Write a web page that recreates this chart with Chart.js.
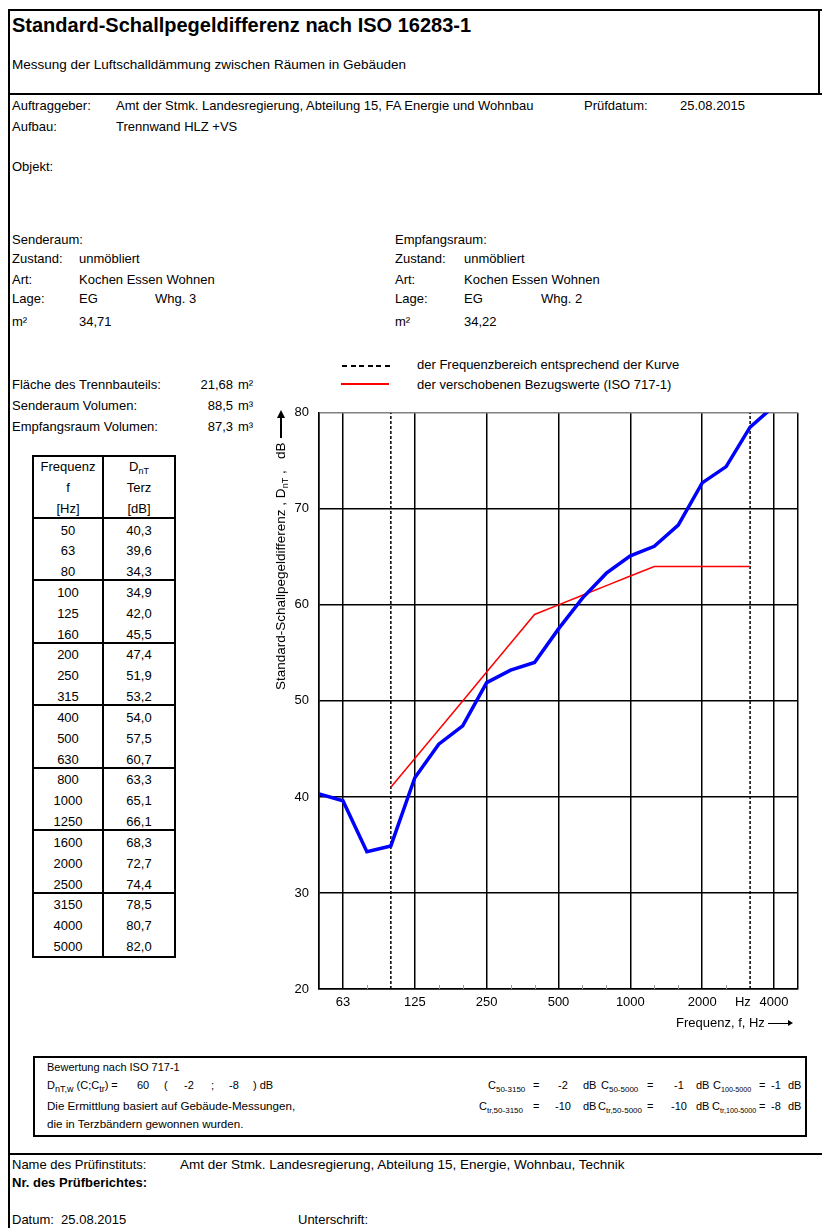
<!DOCTYPE html>
<html lang="de"><head><meta charset="utf-8">
<script src="https://cdn.jsdelivr.net/npm/chart.js@4.4.1/dist/chart.umd.min.js"></script>
<style>
html,body{margin:0;padding:0;background:#fff}
body{width:822px;height:1228px;position:relative;overflow:hidden;font-family:"Liberation Sans",Arial,sans-serif;font-size:13px;color:#000}
.t{position:absolute;white-space:nowrap;line-height:16px;height:16px}
.r{text-align:right}
.c{text-align:center}
.hl{position:absolute;height:2px;background:#000}
.vl{position:absolute;width:2px;background:#000}
sub{font-size:9px;vertical-align:-3px;line-height:0}
.s{font-size:11px}
.xs{font-size:11.6px}
.ss sub{font-size:8px}
.s7 sub{font-size:7.2px}
</style></head><body>

<!-- frame -->
<div class="hl" style="left:8px;top:9px;width:814px"></div>
<div class="vl" style="left:8px;top:9px;height:1219px"></div>
<div class="vl" style="left:818px;top:9px;height:86px"></div>
<div class="hl" style="left:8px;top:93px;width:814px"></div>
<div class="hl" style="left:8px;top:1153px;width:814px"></div>

<div class="t" style="left:12px;top:14px;font-size:20px;font-weight:bold;line-height:22px;height:22px">Standard-Schallpegeldifferenz nach ISO 16283-1</div>
<div class="t" style="left:12px;top:57px;font-size:13.5px">Messung der Luftschalldämmung zwischen Räumen in Gebäuden</div>

<div class="t" style="left:12px;top:98px">Auftraggeber:</div>
<div class="t" style="left:116px;top:98px">Amt der Stmk. Landesregierung, Abteilung 15, FA Energie und Wohnbau</div>
<div class="t" style="left:584px;top:98px">Prüfdatum:</div>
<div class="t" style="left:680px;top:98px">25.08.2015</div>
<div class="t" style="left:12px;top:119px">Aufbau:</div>
<div class="t" style="left:116px;top:119px">Trennwand HLZ +VS</div>
<div class="t" style="left:12px;top:159px">Objekt:</div>

<div class="t" style="left:12px;top:232px">Senderaum:</div>
<div class="t" style="left:12px;top:251px">Zustand:</div><div class="t" style="left:79px;top:251px">unmöbliert</div>
<div class="t" style="left:12px;top:272px">Art:</div><div class="t" style="left:79px;top:272px">Kochen Essen Wohnen</div>
<div class="t" style="left:12px;top:291px">Lage:</div><div class="t" style="left:79px;top:291px">EG</div><div class="t" style="left:155px;top:291px">Whg. 3</div>
<div class="t" style="left:12px;top:314px">m²</div><div class="t" style="left:79px;top:314px">34,71</div>

<div class="t" style="left:395px;top:232px">Empfangsraum:</div>
<div class="t" style="left:395px;top:251px">Zustand:</div><div class="t" style="left:464px;top:251px">unmöbliert</div>
<div class="t" style="left:395px;top:272px">Art:</div><div class="t" style="left:464px;top:272px">Kochen Essen Wohnen</div>
<div class="t" style="left:395px;top:291px">Lage:</div><div class="t" style="left:464px;top:291px">EG</div><div class="t" style="left:541px;top:291px">Whg. 2</div>
<div class="t" style="left:395px;top:314px">m²</div><div class="t" style="left:464px;top:314px">34,22</div>

<!-- legend -->
<div style="position:absolute;left:342px;top:365px;width:48px;height:1.5px;background:repeating-linear-gradient(to right,#000 0 5px,transparent 5px 8.6px)"></div>
<div class="t" style="left:417px;top:357px">der Frequenzbereich entsprechend der Kurve</div>
<div style="position:absolute;left:341px;top:383px;width:48px;height:2px;background:#ff0000"></div>
<div class="t" style="left:417px;top:377px">der verschobenen Bezugswerte (ISO 717-1)</div>

<div class="t" style="left:12px;top:377px">Fläche des Trennbauteils:</div>
<div class="t r" style="right:589px;top:377px">21,68</div><div class="t" style="left:238px;top:377px">m²</div>
<div class="t" style="left:12px;top:398px">Senderaum Volumen:</div>
<div class="t r" style="right:589px;top:398px">88,5</div><div class="t" style="left:238px;top:398px">m³</div>
<div class="t" style="left:12px;top:419px">Empfangsraum Volumen:</div>
<div class="t r" style="right:589px;top:419px">87,3</div><div class="t" style="left:238px;top:419px">m³</div>

<!-- table -->
<div id="tbl"></div>

<!-- chart -->
<div style="position:absolute;left:250px;top:395px;width:560px;height:650px"><canvas id="c"></canvas></div>

<!-- y axis title -->
<div style="position:absolute;left:273px;top:690px;transform-origin:0 0;transform:rotate(-90deg);white-space:nowrap;line-height:16px;height:16px;display:flex;align-items:center;font-size:13.5px">
<span>Standard-Schallpegeldifferenz , D<sub>nT</sub> ,&nbsp;&nbsp; dB</span>
<span style="display:inline-block;width:20px;height:1.5px;background:#000;margin-left:5px"></span>
<span style="display:inline-block;width:0;height:0;border-left:8px solid #000;border-top:4px solid transparent;border-bottom:4px solid transparent"></span>
</div>
<!-- x axis title -->
<div class="t" style="left:676px;top:1015px;display:flex;align-items:center">
<span>Frequenz, f, Hz</span>
<span style="display:inline-block;width:20px;height:1px;background:#000;margin-left:3px"></span>
<span style="display:inline-block;width:0;height:0;border-left:5px solid #000;border-top:3px solid transparent;border-bottom:3px solid transparent"></span>
</div>

<!-- Bewertung -->
<div style="position:absolute;left:33px;top:1056px;width:774px;height:81px;border:2px solid #000;box-sizing:border-box"></div>
<div class="t s" style="left:47px;top:1059px">Bewertung nach ISO 717-1</div>
<div class="t s" style="left:47px;top:1077px">D<sub>nT,w</sub> (C;C<sub>tr</sub>) =</div>
<div class="t s" style="left:137px;top:1077px">60</div>
<div class="t s" style="left:164px;top:1077px">(</div>
<div class="t s" style="left:184px;top:1077px">-2</div>
<div class="t s" style="left:211px;top:1077px">;</div>
<div class="t s" style="left:229px;top:1077px">-8</div>
<div class="t s" style="left:253px;top:1077px">) dB</div>
<div class="t xs" style="left:47px;top:1098px">Die Ermittlung basiert auf Gebäude-Messungen,</div>
<div class="t xs" style="left:47px;top:1116px">die in Terzbändern gewonnen wurden.</div>

<!-- row 1 -->
<div class="t s ss" style="left:488px;top:1077px">C<sub>50-3150</sub></div>
<div class="t s" style="left:533px;top:1077px">=</div>
<div class="t s c" style="left:553px;width:20px;top:1077px">-2</div>
<div class="t s" style="left:583px;top:1077px">dB</div>
<div class="t s ss" style="left:601px;top:1077px">C<sub>50-5000</sub></div>
<div class="t s" style="left:647px;top:1077px">=</div>
<div class="t s c" style="left:669px;width:20px;top:1077px">-1</div>
<div class="t s" style="left:696px;top:1077px">dB</div>
<div class="t s s7" style="left:713px;top:1077px">C<sub>100-5000</sub></div>
<div class="t s" style="left:759px;top:1077px">=</div>
<div class="t s c" style="left:768px;width:16px;top:1077px">-1</div>
<div class="t s" style="left:788px;top:1077px">dB</div>
<!-- row 2 -->
<div class="t s ss" style="left:479px;top:1098px">C<sub>tr,50-3150</sub></div>
<div class="t s" style="left:533px;top:1098px">=</div>
<div class="t s c" style="left:553px;width:20px;top:1098px">-10</div>
<div class="t s" style="left:583px;top:1098px">dB</div>
<div class="t s ss" style="left:598px;top:1098px">C<sub>tr,50-5000</sub></div>
<div class="t s" style="left:647px;top:1098px">=</div>
<div class="t s c" style="left:669px;width:20px;top:1098px">-10</div>
<div class="t s" style="left:696px;top:1098px">dB</div>
<div class="t s s7" style="left:712px;top:1098px">C<sub>tr,100-5000</sub></div>
<div class="t s" style="left:759px;top:1098px">=</div>
<div class="t s c" style="left:768px;width:16px;top:1098px">-8</div>
<div class="t s" style="left:788px;top:1098px">dB</div>

<div class="t" style="left:12px;top:1157px">Name des Prüfinstituts:</div>
<div class="t" style="left:180px;top:1157px;font-size:13.5px">Amt der Stmk. Landesregierung, Abteilung 15, Energie, Wohnbau, Technik</div>
<div class="t" style="left:12px;top:1175px;font-weight:bold">Nr. des Prüfberichtes:</div>
<div class="t" style="left:12px;top:1212px">Datum:&nbsp; 25.08.2015</div>
<div class="t" style="left:298px;top:1212px">Unterschrift:</div>

<script>
// ---- data ----
const freqLabels = ['50','63','80','100','125','160','200','250','315','400','500','630','800','1000','1250','1600','2000','2500','3150','4000','5000'];
const dntValues = [40.3,39.6,34.3,34.9,42.0,45.5,47.4,51.9,53.2,54.0,57.5,60.7,63.3,65.1,66.1,68.3,72.7,74.4,78.5,80.7,82.0];
const refFreqs = ['100','125','160','200','250','315','400','500','630','800','1000','1250','1600','2000','2500','3150'];
const refValues = [41,44,47,50,53,56,59,60,61,62,63,64,64,64,64,64];
const octaveFreqs = ['63','125','250','500','1000','2000','4000'];
const rangeFreqs = ['100','3150'];
const xTickFreqs = ['63','125','250','500','1000','2000','3150','4000'];
const xTickTexts = ['63','125','250','500','1000','2000','Hz    ','4000'];
const yTicks = [20,30,40,50,60,70,80];
const yMin = 20, yMax = 80;

// ---- table ----
(function(){
  const tbl = document.getElementById('tbl');
  const L = 32, T = 455, colDiv = 102, R = 176, headH = 64, rowH = 20.83;
  let h = '';
  const bottom = T + headH + freqLabels.length * rowH + 2;
  h += `<div style="position:absolute;left:${L}px;top:${T}px;width:${R-L}px;height:${bottom-T}px;border:2px solid #000;box-sizing:border-box"></div>`;
  h += `<div class="vl" style="left:${colDiv}px;top:${T}px;height:${bottom-T}px"></div>`;
  const c1 = (L + colDiv + 2) / 2, c2 = (colDiv + R) / 2;
  const head = [['Frequenz','D<sub>nT</sub>'],['f','Terz'],['[Hz]','[dB]']];
  head.forEach((r,i)=>{
    const y = T + 12 + i*21;
    h += `<div class="t c" style="left:${c1-40}px;width:80px;top:${y-8}px">${r[0]}</div>`;
    h += `<div class="t c" style="left:${c2-40}px;width:80px;top:${y-8}px">${r[1]}</div>`;
  });
  const y0 = T + headH;
  for (let g = 0; g < freqLabels.length/3; g++) {
    const ly = y0 + g*3*rowH - 2;
    h += `<div class="hl" style="left:${L}px;top:${ly}px;width:${R-L}px"></div>`;
  }
  freqLabels.forEach((f,i)=>{
    const y = y0 + i*rowH + 11.5;
    h += `<div class="t c" style="left:${c1-40}px;width:80px;top:${y-8}px">${f}</div>`;
    h += `<div class="t c" style="left:${c2-40}px;width:80px;top:${y-8}px">${dntValues[i].toFixed(1).replace('.',',')}</div>`;
  });
  tbl.innerHTML = h;
})();

// ---- chart ----
const refSeries = freqLabels.map(f => { const k = refFreqs.indexOf(f); return k >= 0 ? refValues[k] : null; });
const octIdx = octaveFreqs.map(f => freqLabels.indexOf(f));
const rangeIdx = rangeFreqs.map(f => freqLabels.indexOf(f));
const tickMap = {};
xTickFreqs.forEach((f,i)=>{ tickMap[freqLabels.indexOf(f)] = xTickTexts[i]; });

const rangeSets = rangeFreqs.map(f => ({
  data: [{x:f, y:yMin},{x:f, y:yMax}],
  borderColor:'#000', borderWidth:1.5, borderDash:[3,2], pointRadius:0, clip:0, order:3
}));

const minorTicks = {
  id:'minorTicks',
  beforeDatasetsDraw(chart){
    const x = chart.scales.x, a = chart.chartArea, ctx = chart.ctx;
    ctx.save(); ctx.strokeStyle = '#9a9a9a'; ctx.lineWidth = 1;
    freqLabels.forEach((f,i)=>{
      if (octIdx.includes(i) || rangeIdx.includes(i) || i===0 || i===freqLabels.length-1) return;
      const px = Math.round(x.getPixelForValue(i)) + 0.5;
      ctx.beginPath(); ctx.moveTo(px, a.bottom); ctx.lineTo(px, a.bottom-4); ctx.stroke();
    });
    ctx.restore();
  }
};

new Chart(document.getElementById('c'), {
  type:'line',
  data:{
    labels: freqLabels,
    datasets:[
      {data: dntValues, borderColor:'#0000ff', borderWidth:3.5, pointRadius:0, tension:0, clip:0, order:1},
      {data: refSeries, borderColor:'#ff0000', borderWidth:1.5, pointRadius:0, tension:0, clip:0, order:2},
      ...rangeSets
    ]
  },
  options:{
    responsive:true, maintainAspectRatio:false, animation:false,
    layout:{padding:{top:17,right:12,left:0,bottom:0}},
    plugins:{legend:{display:false}, tooltip:{enabled:false}, title:{display:false}},
    events:[],
    scales:{
      x:{
        type:'category', offset:false,
        grid:{drawTicks:false, lineWidth:1.5,
          color: ctx => (octIdx.includes(ctx.index) || ctx.index===0 || ctx.index===freqLabels.length-1) ? '#000' : 'rgba(0,0,0,0)'},
        border:{display:true, color:'#000', width:1.5},
        ticks:{autoSkip:false, maxRotation:0, minRotation:0, padding:6, color:'#000',
          font:{family:'"Liberation Sans", Arial, sans-serif', size:13},
          callback:(v,i)=> tickMap[i] !== undefined ? tickMap[i] : ''},
        afterFit: s => { s.height = 56; }
      },
      y:{
        min:yMin, max:yMax,
        afterBuildTicks: s => { s.ticks = yTicks.map(v=>({value:v})); },
        grid:{drawTicks:false, lineWidth:1.5, color: ctx => ctx.tick && ctx.tick.value===yMax ? '#808080' : '#000'},
        border:{display:true, color:'#000', width:1.5},
        ticks:{padding:10, color:'#000', font:{family:'"Liberation Sans", Arial, sans-serif', size:13}},
        afterFit: s => { s.width = 69; }
      }
    }
  },
  plugins:[minorTicks]
});
</script>
</body></html>
